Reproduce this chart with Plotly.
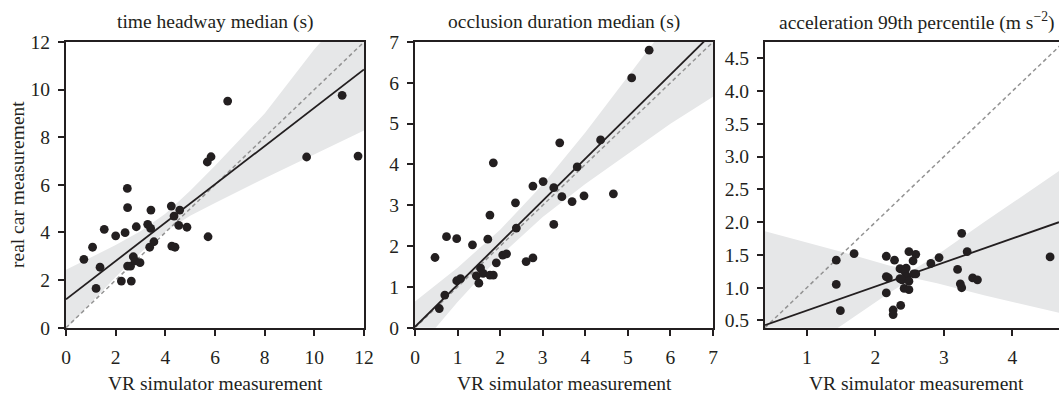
import plotly.graph_objects as go

# ---------------- data ----------------
# Panel 1: time headway median (s)
th_vr = [0.72, 1.07, 1.21, 1.37, 1.54, 2.00, 2.23, 2.38, 2.47, 2.48, 2.48, 2.60, 2.63, 2.71,
         2.78, 2.98, 2.83, 3.29, 3.37, 3.41, 3.42, 3.54, 4.24, 4.26, 4.35, 4.39, 4.54, 4.58,
         4.87, 5.69, 5.72, 5.84, 6.51, 9.69, 11.12, 11.76]
th_car = [2.87, 3.38, 1.65, 2.54, 4.13, 3.86, 1.96, 3.99, 5.85, 5.04, 2.59, 2.59, 1.96, 2.98,
          2.81, 2.73, 4.24, 4.34, 3.38, 4.17, 4.94, 3.61, 5.11, 3.43, 4.69, 3.38, 4.30, 4.94,
          4.22, 6.96, 3.82, 7.18, 9.52, 7.17, 9.76, 7.21]
th_fit = [1.19, 0.805]  # intercept, slope
th_band_x = [0, 1, 2, 3, 4, 5, 6, 8, 10, 12]
th_band_lo = [-0.05, 1.06, 2.13, 3.15, 4.04, 4.70, 5.24, 6.28, 7.28, 8.28]
th_band_hi = [2.43, 2.94, 3.47, 4.05, 4.79, 5.75, 6.80, 9.00, 11.7, 14.0]

# Panel 2: occlusion duration median (s)
oc_vr = [0.47, 0.57, 0.70, 0.74, 0.98, 0.98, 1.07, 1.35, 1.44, 1.50, 1.54, 1.60, 1.76, 1.71,
         1.76, 1.84, 1.91, 2.06, 2.15, 2.36, 2.38, 2.61, 2.77, 2.77, 3.01, 3.26, 3.26, 3.45,
         3.69, 5.50, 5.09, 3.40, 4.36, 3.81, 3.97, 4.66, 1.84]
oc_car = [1.72, 0.47, 0.80, 2.23, 2.18, 1.15, 1.20, 2.03, 1.27, 1.09, 1.46, 1.33, 2.76, 2.17,
          1.29, 1.29, 1.59, 1.78, 1.81, 3.06, 2.44, 1.62, 1.71, 3.47, 3.58, 3.43, 2.53, 3.21,
          3.09, 6.80, 6.12, 4.53, 4.60, 3.94, 3.23, 3.28, 4.04]
oc_fit = [0.02, 1.03]
oc_band_x = [0, 1, 2, 3, 4, 5, 6, 7]
oc_band_lo = [-0.60, 0.63, 1.76, 2.71, 3.52, 4.27, 5.00, 5.66]
oc_band_hi = [0.64, 1.47, 2.40, 3.51, 4.78, 6.12, 7.50, 8.90]

# Panel 3: acceleration 99th percentile (m s^-2)
ac_vr = [1.43, 1.43, 1.69, 1.49, 2.16, 2.28, 2.49, 2.59, 2.55, 2.36, 2.45, 2.43, 2.16, 2.19,
         2.36, 2.46, 2.56, 2.59, 2.39, 2.49, 2.42, 2.49, 2.16, 2.37, 2.26, 2.26, 2.81, 2.93,
         3.26, 3.34, 3.20, 3.24, 3.26, 3.42, 3.49, 4.55]
ac_car = [1.05, 1.42, 1.52, 0.65, 1.48, 1.42, 1.55, 1.51, 1.41, 1.29, 1.30, 1.25, 1.17, 1.15,
          1.14, 1.17, 1.21, 1.21, 1.12, 1.10, 0.99, 0.97, 0.92, 0.73, 0.66, 0.59, 1.37, 1.46,
          1.83, 1.55, 1.28, 1.06, 1.00, 1.15, 1.12, 1.47]
ac_fit = [0.287, 0.366]
ac_band_x = [0.39, 1.5, 2.2, 2.55, 2.9, 3.6, 4.68]
ac_band_lo = [-0.35, 0.42, 0.92, 1.15, 1.07, 0.88, 0.62]
ac_band_hi = [1.86, 1.55, 1.34, 1.27, 1.50, 2.01, 2.78]

titles = ["time headway median (s)", "occlusion duration median (s)",
          "acceleration 99th percentile (m s<sup>\u22122</sup>)"]
x_label = "VR simulator measurement"
y_label = "real car measurement"

# ---------------- styling ----------------
W, H = 1059, 394
FONT = "Liberation Serif"
FS = 19.5
INK = "#231f20"
BAND = "#e6e7e8"
DASH = "#939393"

panels = [
    dict(vr=th_vr, car=th_car, fit=th_fit, bx=th_band_x, blo=th_band_lo, bhi=th_band_hi,
         xr=[0, 12], yr=[0, 12], xt=[0, 2, 4, 6, 8, 10, 12], yt=[0, 2, 4, 6, 8, 10, 12],
         px=(66, 364), fmt=None, mirror_y=True),
    dict(vr=oc_vr, car=oc_car, fit=oc_fit, bx=oc_band_x, blo=oc_band_lo, bhi=oc_band_hi,
         xr=[0, 7], yr=[0, 7], xt=list(range(8)), yt=list(range(8)),
         px=(415, 713), fmt=None, mirror_y=True),
    dict(vr=ac_vr, car=ac_car, fit=ac_fit, bx=ac_band_x, blo=ac_band_lo, bhi=ac_band_hi,
         xr=[0.39, 4.68], yr=[0.39, 4.75], xt=[1, 2, 3, 4],
         yt=[0.5, 1.0, 1.5, 2.0, 2.5, 3.0, 3.5, 4.0, 4.5],
         px=(765, 1059), fmt=".1f", mirror_y=False),
]
PY_TOP, PY_BOT = 42, 327.7

fig = go.Figure()
layout = dict(template="none", width=W, height=H, margin=dict(l=0, r=0, t=0, b=0, pad=0),
              paper_bgcolor="white", plot_bgcolor="white", showlegend=False,
              font=dict(family=FONT, size=FS, color=INK))
annotations = []

for i, p in enumerate(panels, start=1):
    xa = "x" if i == 1 else f"x{i}"
    ya = "y" if i == 1 else f"y{i}"
    # confidence band
    fig.add_trace(go.Scatter(x=p["bx"], y=p["blo"], mode="lines", line=dict(width=0, color=BAND),
                             xaxis=xa, yaxis=ya, hoverinfo="skip"))
    fig.add_trace(go.Scatter(x=p["bx"], y=p["bhi"], mode="lines", line=dict(width=0, color=BAND),
                             fill="tonexty", fillcolor=BAND, xaxis=xa, yaxis=ya, hoverinfo="skip"))
    # identity line
    lo = min(p["xr"][0], p["yr"][0])
    hi = max(p["xr"][1], p["yr"][1])
    fig.add_trace(go.Scatter(x=[lo, hi], y=[lo, hi], mode="lines",
                             line=dict(color=DASH, width=1.5, dash="4px,3px"),
                             xaxis=xa, yaxis=ya, hoverinfo="skip"))
    # fitted line
    b0, b1 = p["fit"]
    fx = [p["xr"][0], p["xr"][1]]
    fig.add_trace(go.Scatter(x=fx, y=[b0 + b1 * v for v in fx], mode="lines",
                             line=dict(color=INK, width=1.8), xaxis=xa, yaxis=ya, hoverinfo="skip"))
    # points
    fig.add_trace(go.Scatter(x=p["vr"], y=p["car"], mode="markers",
                             marker=dict(color=INK, size=8.8, line=dict(width=0)),
                             xaxis=xa, yaxis=ya, cliponaxis=False))

    dom_x = [p["px"][0] / W, min(p["px"][1] / W, 1.0)]
    dom_y = [1 - PY_BOT / H, 1 - PY_TOP / H]
    axcommon = dict(showgrid=False, zeroline=False, showline=True, linecolor=INK, linewidth=2,
                    ticks="outside", ticklen=6, tickwidth=1.6, tickcolor=INK, automargin=False,
                    tickfont=dict(family=FONT, size=FS, color=INK))
    layout["xaxis" if i == 1 else f"xaxis{i}"] = dict(
        axcommon, domain=dom_x, range=p["xr"], tickvals=p["xt"], mirror=True,
        anchor=ya, fixedrange=True, ticklabelstandoff=5)
    ydict = dict(axcommon, domain=dom_y, range=p["yr"], tickvals=p["yt"],
                 mirror=p["mirror_y"], anchor=xa, fixedrange=True, ticklabelstandoff=4)
    if p["fmt"]:
        ydict["tickformat"] = p["fmt"]
    layout["yaxis" if i == 1 else f"yaxis{i}"] = ydict

    cx = {1: 215, 2: 564, 3: 916.5}[i]
    annotations.append(dict(text=titles[i - 1], x=cx / W, y=1 - 21.5 / H, xref="paper",
                            yref="paper", showarrow=False, xanchor="center", yanchor="middle",
                            font=dict(family=FONT, size=FS, color=INK)))
    annotations.append(dict(text=x_label, x=cx / W, y=1 - 383 / H, xref="paper",
                            yref="paper", showarrow=False, xanchor="center", yanchor="middle",
                            font=dict(family=FONT, size=FS, color=INK)))

annotations.append(dict(text=y_label, x=17 / W, y=1 - 185 / H, xref="paper", yref="paper",
                        showarrow=False, textangle=-90, xanchor="center", yanchor="middle",
                        font=dict(family=FONT, size=FS, color=INK)))
layout["annotations"] = annotations
fig.update_layout(**layout)
fig.write_html("out.html")
